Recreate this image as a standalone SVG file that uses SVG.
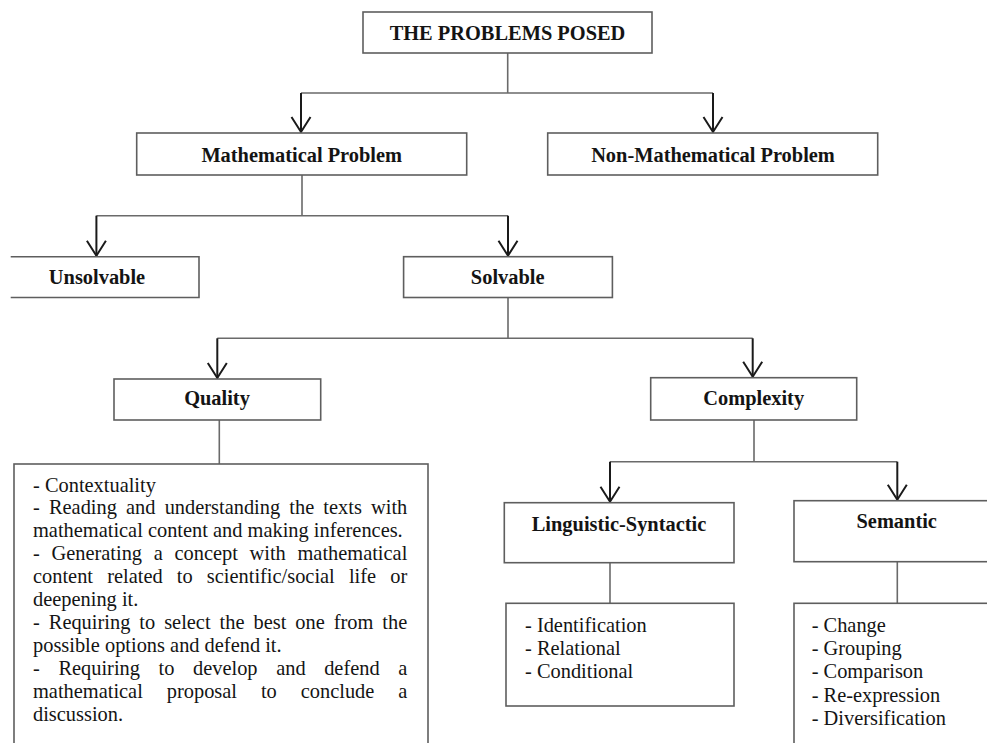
<svg xmlns="http://www.w3.org/2000/svg" width="987" height="743" viewBox="0 0 987 743">
<defs>
<style>
.box{fill:#fff;stroke:#5e5e5e;stroke-width:1.6}
.ln{fill:none;stroke:#6a6a6a;stroke-width:1.6}
.ar{fill:none;stroke:#1a1a1a;stroke-width:2}
.t{font-family:"Liberation Serif","Times New Roman",serif;font-size:20.4px;fill:#141414}
.b{font-weight:bold;text-anchor:middle}
</style>
<marker id="ah" markerUnits="userSpaceOnUse" markerWidth="40" markerHeight="40" refX="0" refY="0" orient="auto" overflow="visible">
<path d="M-15,-9.5 L0,0 L-15,9.5" fill="none" stroke="#1a1a1a" stroke-width="2"/>
</marker>
</defs>
<rect width="987" height="743" fill="#fff"/>

<g id="connectors">
<path class="ln" d="M507.7,53 V93 M301,93 H713"/>
<path class="ar" d="M301,93 V132" marker-end="url(#ah)"/>
<path class="ar" d="M713,93 V132" marker-end="url(#ah)"/>
<path class="ln" d="M302,175 V215.7 M96.4,215.7 H508"/>
<path class="ar" d="M96.4,215.7 V255.7" marker-end="url(#ah)"/>
<path class="ar" d="M508,215.7 V255.7" marker-end="url(#ah)"/>
<path class="ln" d="M508,297.5 V338.3 M217.3,338.3 H752.7"/>
<path class="ar" d="M217.3,338.3 V378" marker-end="url(#ah)"/>
<path class="ar" d="M752.7,338.3 V376.7" marker-end="url(#ah)"/>
<path class="ln" d="M219.3,420 V464"/>
<path class="ln" d="M754,420 V461.7 M610,461.7 H897.3"/>
<path class="ar" d="M610,461.7 V501.7" marker-end="url(#ah)"/>
<path class="ar" d="M897.3,461.7 V499.7" marker-end="url(#ah)"/>
<path class="ln" d="M610,560 V603.3"/>
<path class="ln" d="M897.3,561.7 V603.3"/>
</g>

<g id="root">
<rect class="box" x="363" y="12" width="289" height="41"/>
<text class="t b" x="507.5" y="39.5">THE PROBLEMS POSED</text>
</g>
<g id="math">
<rect class="box" x="136.7" y="133" width="330" height="42"/>
<text class="t b" x="301.7" y="161.7">Mathematical Problem</text>
</g>
<g id="nonmath">
<rect class="box" x="547.7" y="133" width="330" height="42"/>
<text class="t b" x="713" y="161.7">Non-Mathematical Problem</text>
</g>
<g id="unsolvable">
<path class="box" d="M10.7,256.7 H199 V297.5 H10.7"/>
<text class="t b" x="97" y="284">Unsolvable</text>
</g>
<g id="solvable">
<rect class="box" x="403.6" y="256.7" width="208.8" height="40.8"/>
<text class="t b" x="507.7" y="284">Solvable</text>
</g>
<g id="quality">
<rect class="box" x="114" y="379" width="206.7" height="41"/>
<text class="t b" x="217" y="405">Quality</text>
</g>
<g id="complexity">
<rect class="box" x="650.7" y="377.7" width="206" height="42.3"/>
<text class="t b" x="753.7" y="405">Complexity</text>
</g>
<g id="quality-list">
<rect class="box" x="14" y="464" width="414" height="300"/>
<text class="t" x="33" y="491.5">- Contextuality</text>
<text class="t" x="33" y="514.4" word-spacing="4.05">- Reading and understanding the texts with</text>
<text class="t" x="33" y="537.3">mathematical content and making inferences.</text>
<text class="t" x="33" y="560.2" word-spacing="6.58">- Generating a concept with mathematical</text>
<text class="t" x="33" y="583.1" word-spacing="9.06">content related to scientific/social life or</text>
<text class="t" x="33" y="606">deepening it.</text>
<text class="t" x="33" y="628.9" word-spacing="3.89">- Requiring to select the best one from the</text>
<text class="t" x="33" y="651.8">possible options and defend it.</text>
<text class="t" x="33" y="674.7" word-spacing="13.5">- Requiring to develop and defend a</text>
<text class="t" x="33" y="697.6" word-spacing="18.85">mathematical proposal to conclude a</text>
<text class="t" x="33" y="720.5">discussion.</text>
</g>
<g id="linguistic">
<rect class="box" x="504.3" y="502.7" width="229.7" height="60"/>
<text class="t b" x="619" y="531">Linguistic-Syntactic</text>
</g>
<g id="semantic">
<rect class="box" x="794" y="500.7" width="220" height="61"/>
<text class="t b" x="896.7" y="528.3">Semantic</text>
</g>
<g id="linguistic-list">
<rect class="box" x="506" y="603.3" width="228" height="102.7"/>
<text class="t" x="525" y="631.7">- Identification</text>
<text class="t" x="525" y="655">- Relational</text>
<text class="t" x="525" y="678.3">- Conditional</text>
</g>
<g id="semantic-list">
<rect class="box" x="794" y="603.3" width="220" height="160"/>
<text class="t" x="811.7" y="631.7">- Change</text>
<text class="t" x="811.7" y="655">- Grouping</text>
<text class="t" x="811.7" y="678.3">- Comparison</text>
<text class="t" x="811.7" y="701.6">- Re-expression</text>
<text class="t" x="811.7" y="725">- Diversification</text>
</g>
</svg>
